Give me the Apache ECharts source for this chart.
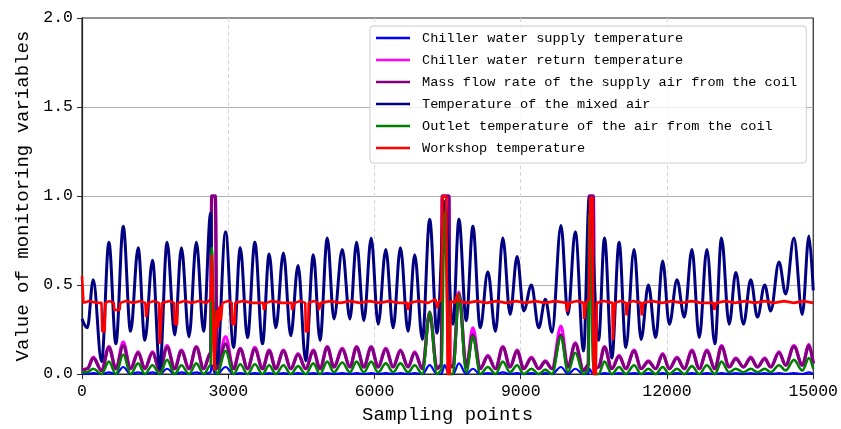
<!DOCTYPE html>
<html>
<head>
<meta charset="utf-8">
<script src="https://cdn.jsdelivr.net/npm/echarts@6/dist/echarts.min.js"></script>
<style>
  html, body { margin: 0; padding: 0; background: #fff; }
  #chart { width: 841px; height: 429px; }
</style>
</head>
<body>
<div id="chart"></div>
<script>
// sample positions shared by the oscillating series (peaks / troughs / spike edges)
var sampleX = [
  0, 109, 231, 402, 552, 695, 846, 996, 1152, 1289,
  1446, 1595, 1745, 1902, 2039, 2195, 2346, 2495, 2639, 2660,
  2735, 2770, 2945, 3109, 3246, 3395, 3546, 3702, 3839, 3975,
  4132, 4282, 4432, 4589, 4746, 4882, 5032, 5168, 5339, 5496,
  5632, 5782, 5932, 6075, 6232, 6382, 6532, 6689, 6825, 6982,
  7132, 7282, 7370, 7390, 7440, 7527, 7545, 7609, 7732, 7882,
  8018, 8168, 8325, 8482, 8632, 8782, 8925, 9061, 9219, 9368,
  9505, 9641, 9825, 9968, 10118, 10289, 10385, 10405, 10490, 10510,
  10596, 10718, 10868, 11018, 11155, 11325, 11469, 11618, 11768, 11911,
  12048, 12205, 12355, 12512, 12662, 12818, 12982, 13118, 13275, 13412,
  13568, 13718, 13855, 14005, 14128, 14298, 14434, 14604, 14775, 14912,
  15000
];

var mixedAir = [
  0.31, 0.26, 0.53, 0.07, 0.74, 0.17, 0.83, 0.24, 0.71, 0.19,
  0.64, 0.03, 0.74, 0.22, 0.71, 0.21, 0.74, 0.24, 0.905, 0.45,
  null, 0.06, 0.80, 0.15, 0.71, 0.205, 0.74, 0.17, 0.675, 0.26,
  0.68, 0.215, 0.61, 0.075, 0.67, 0.19, 0.765, 0.31, 0.70, 0.31,
  0.74, 0.30, 0.765, 0.28, 0.70, 0.26, 0.71, 0.24, 0.67, 0.195,
  0.87, 0.23, null, null, 0.97, null, null, 0.28, 0.87, 0.30,
  0.83, 0.26, 0.575, 0.24, 0.765, 0.335, 0.66, 0.355, 0.50, 0.26,
  0.42, 0.235, 0.835, 0.335, 0.80, 0.13, null, 0.99, null, null,
  0.19, 0.765, 0.09, 0.74, 0.15, 0.70, 0.195, 0.50, 0.205, 0.635,
  0.28, 0.53, 0.32, 0.70, 0.205, 0.70, 0.17, 0.765, 0.28, 0.57,
  0.28, 0.53, 0.32, 0.50, 0.355, 0.63, 0.45, 0.765, 0.335, 0.775,
  0.47
];

var massFlow = [
  0.02, 0.03, 0.09, 0.02, 0.15, 0.03, 0.16, 0.03, 0.12, 0.03,
  0.12, 0.02, 0.15, 0.03, 0.13, 0.03, 0.15, 0.03, 0.12, 1.0,
  1.0, 0.03, 0.17, 0.03, 0.14, 0.03, 0.14, 0.03, 0.13, 0.03,
  0.13, 0.03, 0.11, 0.03, 0.13, 0.03, 0.15, 0.04, 0.14, 0.04,
  0.15, 0.04, 0.15, 0.04, 0.14, 0.04, 0.13, 0.04, 0.12, 0.03,
  0.34, 0.03, 0.05, 1.0, 1.0, 1.0, 0.05, 0.04, 0.45, 0.04,
  0.22, 0.03, 0.10, 0.03, 0.15, 0.04, 0.13, 0.03, 0.09, 0.03,
  0.07, 0.03, 0.22, 0.04, 0.17, 0.02, 0.05, 1.0, 1.0, 0.03,
  0.04, 0.15, 0.03, 0.10, 0.03, 0.13, 0.03, 0.07, 0.03, 0.11,
  0.03, 0.09, 0.03, 0.13, 0.03, 0.13, 0.03, 0.155, 0.04, 0.085,
  0.04, 0.09, 0.04, 0.085, 0.04, 0.12, 0.05, 0.155, 0.05, 0.16,
  0.06
];

var returnTemp = [
  0.02, 0.03, 0.095, 0.02, 0.155, 0.03, 0.18, 0.03, 0.125, 0.03,
  0.125, 0.02, 0.16, 0.03, 0.135, 0.03, 0.155, 0.03, 0.12, 1.0,
  1.0, 0.03, 0.21, 0.03, 0.145, 0.03, 0.15, 0.03, 0.135, 0.03,
  0.135, 0.03, 0.115, 0.03, 0.135, 0.03, 0.155, 0.04, 0.145, 0.04,
  0.155, 0.04, 0.155, 0.04, 0.145, 0.04, 0.135, 0.04, 0.125, 0.03,
  0.35, 0.03, 0.05, 1.0, 1.0, 1.0, 0.05, 0.04, 0.46, 0.04,
  0.26, 0.03, 0.105, 0.03, 0.155, 0.04, 0.135, 0.03, 0.095, 0.03,
  0.075, 0.03, 0.27, 0.04, 0.175, 0.02, 0.05, 1.0, 1.0, 0.03,
  0.04, 0.155, 0.03, 0.105, 0.03, 0.135, 0.03, 0.075, 0.03, 0.115,
  0.03, 0.095, 0.03, 0.135, 0.03, 0.135, 0.03, 0.16, 0.04, 0.09,
  0.04, 0.095, 0.04, 0.09, 0.04, 0.125, 0.05, 0.16, 0.05, 0.165,
  0.06
];

var outletAir = [
  0.01, 0.01, 0.03, 0.0, 0.07, 0.0, 0.11, 0.0, 0.06, 0.0,
  0.05, 0.0, 0.08, 0.0, 0.05, 0.0, 0.06, 0.0, 0.05, 0.71,
  0.02, 0.0, 0.13, 0.0, 0.055, 0.0, 0.055, 0.0, 0.05, 0.0,
  0.05, 0.0, 0.045, 0.0, 0.06, 0.0, 0.07, 0.01, 0.065, 0.01,
  0.07, 0.01, 0.07, 0.01, 0.06, 0.01, 0.06, 0.01, 0.05, 0.0,
  0.35, 0.0, 0.02, null, 0.91, 0.05, 0.0, 0.0, 0.45, 0.01,
  0.21, 0.0, 0.04, 0.0, 0.07, 0.01, 0.05, 0.0, 0.03, 0.0,
  0.025, 0.0, 0.21, 0.01, 0.12, 0.0, 0.02, 0.9, 0.05, 0.0,
  0.0, 0.07, 0.0, 0.04, 0.0, 0.05, 0.0, 0.03, 0.0, 0.04,
  0.0, 0.03, 0.0, 0.045, 0.0, 0.05, 0.0, 0.07, 0.01, 0.03,
  0.01, 0.03, 0.01, 0.03, 0.01, 0.05, 0.02, 0.08, 0.02, 0.09,
  0.03
];

var supplyTemp = [
  0.0, 0.0, 0.005, 0.0, 0.01, 0.0, 0.04, 0.0, 0.01, 0.0,
  0.01, 0.0, 0.03, 0.0, 0.01, 0.0, 0.01, 0.0, 0.01, 0.05,
  0.0, 0.0, 0.04, 0.0, 0.005, 0.0, 0.005, 0.0, 0.005, 0.0,
  0.005, 0.0, 0.005, 0.0, 0.005, 0.0, 0.005, 0.0, 0.005, 0.0,
  0.005, 0.0, 0.005, 0.0, 0.005, 0.0, 0.005, 0.0, 0.005, 0.0,
  0.05, 0.0, 0.0, null, 0.05, 0.0, 0.0, 0.0, 0.06, 0.0,
  0.03, 0.0, 0.005, 0.0, 0.01, 0.0, 0.005, 0.0, 0.005, 0.0,
  0.005, 0.0, 0.04, 0.0, 0.03, 0.0, 0.0, 0.03, 0.0, 0.0,
  0.0, 0.005, 0.0, 0.005, 0.0, 0.005, 0.0, 0.005, 0.0, 0.005,
  0.0, 0.005, 0.0, 0.005, 0.0, 0.005, 0.0, 0.005, 0.0, 0.005,
  0.0, 0.005, 0.0, 0.005, 0.0, 0.005, 0.0, 0.005, 0.0, 0.01,
  0.0
];

// workshop temperature has its own, denser sampling (dips and spikes)
var workshopX = [
  0, 30, 150, 300, 400, 415, 465, 480, 560, 650,
  665, 770, 785, 900, 1050, 1200, 1300, 1315, 1345, 1360,
  1480, 1580, 1595, 1630, 1645, 1800, 1890, 1905, 1950, 1965,
  2100, 2250, 2400, 2550, 2640, 2665, 2700, 2712, 2745, 2760,
  2790, 2820, 2850, 2880, 3000, 3070, 3085, 3130, 3145, 3300,
  3500, 3720, 3730, 3770, 3780, 3900, 4100, 4300, 4310, 4350,
  4360, 4480, 4580, 4590, 4640, 4650, 4760, 4850, 4860, 4890,
  4900, 5100, 5300, 5500, 5700, 5900, 6100, 6300, 6500, 6670,
  6680, 6710, 6720, 6900, 7100, 7250, 7290, 7310, 7370, 7395,
  7470, 7500, 7545, 7560, 7650, 7700, 7720, 7900, 8100, 8300,
  8500, 8700, 8900, 9100, 9300, 9500, 9700, 9940, 9950, 9985,
  9995, 10150, 10290, 10300, 10330, 10340, 10400, 10425, 10470, 10495,
  10540, 10560, 10700, 10880, 10890, 10920, 10930, 11050, 11160, 11170,
  11195, 11205, 11300, 11470, 11480, 11505, 11515, 11700, 11900, 12100,
  12300, 12500, 12700, 12960, 12970, 13000, 13010, 13200, 13400, 13600,
  13800, 14000, 14200, 14400, 14600, 14800, 15000
];
var workshopY = [
  0.55, 0.40, 0.41, 0.40, 0.40, 0.24, 0.24, 0.40, 0.41, 0.40,
  0.36, 0.36, 0.40, 0.41, 0.40, 0.41, 0.40, 0.32, 0.32, 0.40,
  0.41, 0.40, 0.17, 0.17, 0.40, 0.41, 0.40, 0.28, 0.28, 0.40,
  0.41, 0.40, 0.41, 0.40, 0.42, 0.67, 0.67, 0.02, 0.02, 0.36,
  0.26, 0.38, 0.30, 0.40, 0.41, 0.40, 0.28, 0.28, 0.40, 0.41,
  0.40, 0.40, 0.36, 0.36, 0.40, 0.41, 0.40, 0.40, 0.36, 0.36,
  0.40, 0.41, 0.40, 0.24, 0.24, 0.40, 0.41, 0.40, 0.36, 0.36,
  0.40, 0.41, 0.40, 0.41, 0.40, 0.41, 0.40, 0.41, 0.40, 0.40,
  0.36, 0.36, 0.40, 0.41, 0.40, 0.42, 0.37, 0.40, 0.42, 1.0,
  1.0, 0.0, 0.0, 0.41, 0.40, 0.45, 0.41, 0.40, 0.41, 0.40,
  0.41, 0.40, 0.41, 0.40, 0.41, 0.40, 0.41, 0.40, 0.35, 0.35,
  0.40, 0.41, 0.40, 0.31, 0.31, 0.40, 0.42, 0.99, 0.99, 0.0,
  0.0, 0.40, 0.41, 0.40, 0.19, 0.19, 0.40, 0.41, 0.40, 0.33,
  0.33, 0.40, 0.41, 0.40, 0.33, 0.33, 0.40, 0.41, 0.40, 0.41,
  0.40, 0.41, 0.40, 0.40, 0.36, 0.36, 0.40, 0.41, 0.40, 0.41,
  0.40, 0.41, 0.40, 0.41, 0.40, 0.41, 0.40
];

var seriesNames = [
  'Chiller water supply temperature',
  'Chiller water return temperature',
  'Mass flow rate of the supply air from the coil',
  'Temperature of the mixed air',
  'Outlet temperature of the air from the coil',
  'Workshop temperature'
];
var seriesColors = ['#0000ff', '#ff00ff', '#800080', '#000080', '#008000', '#ff0000'];

var monoFont = 'Liberation Mono';

function pairs(xs, ys) {
  return xs.map(function (x, i) { return [x, ys[i]]; });
}

function makeLine(idx, data, width, smooth) {
  var s = {
    name: seriesNames[idx],
    type: 'line',
    data: data,
    symbol: 'none',
    smooth: smooth ? 0.36 : false,
    connectNulls: true,
    lineStyle: { color: seriesColors[idx], width: width },
    itemStyle: { color: seriesColors[idx] },
    emphasis: { disabled: true },
    silent: true
  };
  if (smooth) s.smoothMonotone = 'x';
  return s;
}

var chart = echarts.init(document.getElementById('chart'), null, { renderer: 'canvas' });

var option = {
  animation: false,
  backgroundColor: '#ffffff',
  grid: {
    left: 82, right: 26, top: 18, bottom: 54,
    show: true, borderColor: '#262626', borderWidth: 1.2,
    containLabel: false
  },
  legend: {
    orient: 'vertical',
    left: 370, top: 26,
    itemWidth: 34, itemHeight: 14, itemGap: 8,
    padding: [5, 9, 8, 6],
    backgroundColor: 'rgba(255,255,255,0.8)',
    borderColor: '#cccccc', borderWidth: 1, borderRadius: 3,
    symbolKeepAspect: true,
    textStyle: { fontFamily: monoFont, fontSize: 13.6, color: '#000', padding: [0, 0, 0, 7] },
    data: seriesNames.map(function (n) {
      return { name: n, icon: 'path://M0,0H34V2.6H0Z' };
    })
  },
  xAxis: {
    type: 'value',
    min: 0, max: 15000, interval: 3000,
    name: 'Sampling points',
    nameLocation: 'middle', nameGap: 30,
    nameTextStyle: { fontFamily: monoFont, fontSize: 19, color: '#000' },
    axisLine: { show: true, lineStyle: { color: '#262626', width: 1.2 } },
    axisTick: { show: true, length: 5, lineStyle: { color: '#262626' } },
    axisLabel: {
      fontFamily: monoFont, fontSize: 16.5, color: '#000', margin: 9,
      formatter: function (v) { return String(v); }
    },
    splitLine: {
      show: true, showMinLine: false, showMaxLine: false,
      lineStyle: { color: '#d6d6d6', type: [4, 3], width: 1 }
    }
  },
  yAxis: {
    type: 'value',
    min: 0, max: 2, interval: 0.5,
    name: 'Value of monitoring variables',
    nameLocation: 'middle', nameGap: 48,
    nameTextStyle: { fontFamily: monoFont, fontSize: 19, color: '#000' },
    axisLine: { show: true, lineStyle: { color: '#262626', width: 1.2 } },
    axisTick: { show: true, length: 5, lineStyle: { color: '#262626' } },
    axisLabel: {
      fontFamily: monoFont, fontSize: 16.5, color: '#000', margin: 9,
      formatter: function (v) { return v.toFixed(1); }
    },
    splitLine: {
      show: true, showMinLine: false, showMaxLine: false,
      lineStyle: { color: '#b0b0b0', width: 1 }
    }
  },
  series: [
    makeLine(0, pairs(sampleX, supplyTemp), 2.2, true),
    makeLine(1, pairs(sampleX, returnTemp), 3.2, true),
    makeLine(2, pairs(sampleX, massFlow), 3.2, true),
    makeLine(3, pairs(sampleX, mixedAir), 3, true),
    makeLine(4, pairs(sampleX, outletAir), 2.6, true),
    makeLine(5, pairs(workshopX, workshopY), 2.6, false)
  ]
};

chart.setOption(option);
</script>
</body>
</html>
